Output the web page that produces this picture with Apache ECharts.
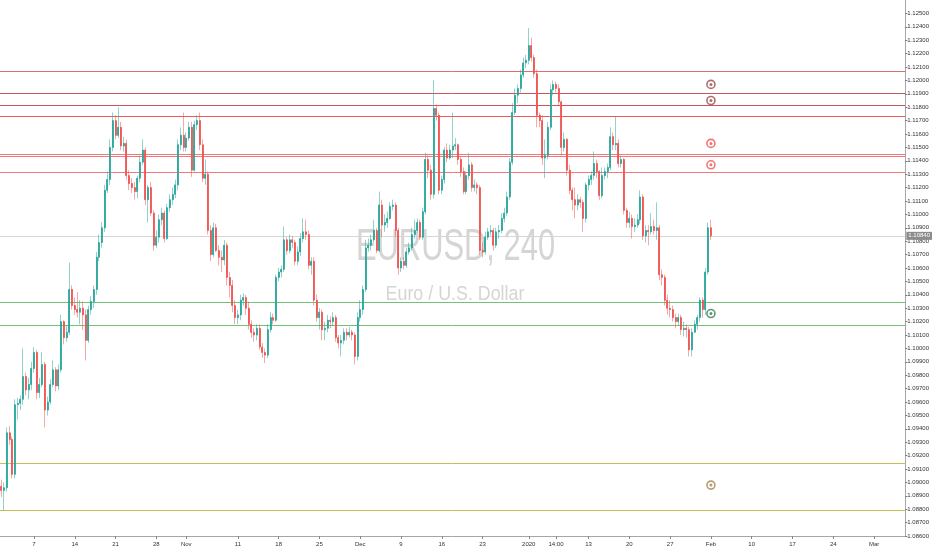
<!DOCTYPE html>
<html>
<head>
<meta charset="utf-8">
<script src="https://cdn.jsdelivr.net/npm/echarts@6/dist/echarts.min.js"></script>
<style>
html,body{margin:0;padding:0;background:#ffffff;}
#chart{width:932px;height:550px;}
</style>
</head>
<body>
<div id="chart"></div>
<script>
// EUR/USD candles, one per 8 hours: [open, close, low, high]
const octBars = [
[1.0897,1.0894,1.0889,1.0902],[1.0894,1.0896,1.0879,1.0900],[1.0896,1.0937,1.0893,1.0941],[1.0937,1.0932,1.0928,1.0942],
[1.0932,1.0906,1.0903,1.0934],[1.0906,1.0958,1.0903,1.0962],[1.0958,1.0959,1.0947,1.0963],[1.0959,1.0962,1.0954,1.0965],
[1.0962,1.0979,1.0958,1.1000],[1.0979,1.0969,1.0965,1.0982],[1.0969,1.0973,1.0962,1.0978],[1.0973,1.0985,1.0969,1.0990],
[1.0985,1.0997,1.0982,1.1001],[1.0997,1.0967,1.0962,1.0999],[1.0967,1.0973,1.0963,1.0978],[1.0973,1.0988,1.0971,1.0997],
[1.0988,1.0954,1.0941,1.0990],[1.0954,1.0960,1.0950,1.0964],[1.0960,1.0973,1.0958,1.0977],[1.0973,1.0984,1.0971,1.0991],
[1.0984,1.0972,1.0968,1.0986],[1.0972,1.0984,1.0969,1.0988],[1.0984,1.1020,1.0982,1.1025],[1.1020,1.1008,1.1003,1.1021],
[1.1008,1.1012,1.1005,1.1017],[1.1012,1.1044,1.1010,1.1064],[1.1044,1.1032,1.1029,1.1047],[1.1032,1.1029,1.1025,1.1038],
[1.1029,1.1027,1.1023,1.1042],[1.1027,1.1030,1.1018,1.1036],[1.1030,1.1025,1.1014,1.1035],[1.1025,1.1006,1.0991,1.1029],
[1.1006,1.1029,1.1004,1.1032],[1.1029,1.1035,1.1025,1.1039],[1.1035,1.1044,1.1030,1.1047],[1.1044,1.1068,1.1040,1.1072],
[1.1068,1.1079,1.1065,1.1085],[1.1079,1.1090,1.1075,1.1094],[1.1090,1.1118,1.1087,1.1122],[1.1118,1.1126,1.1116,1.1132],
[1.1126,1.1150,1.1122,1.1156],[1.1150,1.1170,1.1147,1.1176],[1.1170,1.1159,1.1156,1.1174],[1.1159,1.1165,1.1157,1.1180],
[1.1165,1.1151,1.1148,1.1169],[1.1151,1.1153,1.1147,1.1158],[1.1153,1.1129,1.1126,1.1156],[1.1129,1.1123,1.1118,1.1133],
[1.1123,1.1120,1.1116,1.1127],[1.1120,1.1117,1.1111,1.1124],[1.1117,1.1127,1.1112,1.1129],[1.1127,1.1139,1.1124,1.1144],
[1.1139,1.1148,1.1137,1.1156],[1.1148,1.1111,1.1107,1.1150],[1.1111,1.1120,1.1094,1.1122],[1.1120,1.1101,1.1099,1.1124],
[1.1101,1.1077,1.1073,1.1103],[1.1077,1.1083,1.1075,1.1088],[1.1083,1.1096,1.1079,1.1100],[1.1096,1.1101,1.1092,1.1105],
[1.1101,1.1082,1.1079,1.1103],[1.1082,1.1105,1.1081,1.1108],[1.1105,1.1111,1.1102,1.1115],[1.1111,1.1115,1.1107,1.1120],
[1.1115,1.1122,1.1112,1.1126],[1.1122,1.1152,1.1118,1.1156],[1.1152,1.1159,1.1148,1.1165],[1.1159,1.1150,1.1147,1.1176],
[1.1150,1.1157,1.1147,1.1161]
];
const novBars = [
[1.1157,1.1165,1.1155,1.1169],[1.1165,1.1133,1.1128,1.1169],[1.1133,1.1167,1.1132,1.1170],[1.1167,1.1170,1.1163,1.1174],
[1.1170,1.1152,1.1148,1.1176],[1.1152,1.1127,1.1124,1.1156],[1.1127,1.1130,1.1122,1.1141],[1.1130,1.1088,1.1085,1.1132],
[1.1088,1.1070,1.1065,1.1092],[1.1070,1.1090,1.1068,1.1094],[1.1090,1.1073,1.1072,1.1093],[1.1073,1.1068,1.1062,1.1077],
[1.1068,1.1066,1.1057,1.1073],[1.1066,1.1077,1.1062,1.1081],[1.1077,1.1053,1.1047,1.1079],[1.1053,1.1047,1.1038,1.1057],
[1.1047,1.1032,1.1027,1.1051],[1.1032,1.1023,1.1018,1.1036],[1.1023,1.1025,1.1018,1.1029],[1.1025,1.1036,1.1021,1.1040],
[1.1036,1.1038,1.1032,1.1041],[1.1038,1.1030,1.1025,1.1040],[1.1030,1.1018,1.1014,1.1035],[1.1018,1.1012,1.1008,1.1021],
[1.1012,1.1010,1.1005,1.1015],[1.1010,1.1015,1.1006,1.1018],[1.1015,1.1001,1.0999,1.1018],[1.1001,1.0997,1.0993,1.1004],
[1.0997,1.0995,1.0989,1.1000],[1.0995,1.1014,1.0993,1.1018],[1.1014,1.1023,1.1012,1.1027],[1.1023,1.1021,1.1018,1.1026],
[1.1021,1.1053,1.1020,1.1055],[1.1053,1.1057,1.1050,1.1060],[1.1057,1.1059,1.1053,1.1062],[1.1059,1.1081,1.1057,1.1091],
[1.1081,1.1073,1.1070,1.1083],[1.1073,1.1081,1.1071,1.1085],[1.1081,1.1079,1.1075,1.1084],[1.1079,1.1065,1.1062,1.1081],
[1.1065,1.1072,1.1062,1.1076],[1.1072,1.1082,1.1069,1.1086],[1.1082,1.1087,1.1079,1.1097],[1.1087,1.1085,1.1081,1.1096],
[1.1085,1.1062,1.1059,1.1088],[1.1062,1.1065,1.1055,1.1068],[1.1065,1.1036,1.1032,1.1068],[1.1036,1.1023,1.1020,1.1040],
[1.1023,1.1027,1.1014,1.1030],[1.1027,1.1014,1.1006,1.1029],[1.1014,1.1015,1.1006,1.1020],[1.1015,1.1021,1.1012,1.1025],
[1.1021,1.1020,1.1015,1.1024],[1.1020,1.1023,1.1017,1.1027],[1.1023,1.1008,1.1005,1.1025],[1.1008,1.1004,1.1000,1.1010],
[1.1004,1.1006,1.0994,1.1010],[1.1006,1.1012,1.1003,1.1015],[1.1012,1.1010,1.1006,1.1015],[1.1010,1.1012,1.1008,1.1016],
[1.1012,1.1010,1.1006,1.1014],[1.1010,1.0994,1.0988,1.1012],[1.0994,1.1023,1.0991,1.1027]
];
const decBars = [
[1.1023,1.1029,1.1020,1.1036],[1.1029,1.1044,1.1025,1.1047],[1.1044,1.1075,1.1042,1.1081],[1.1075,1.1077,1.1072,1.1082],
[1.1077,1.1081,1.1073,1.1085],[1.1081,1.1088,1.1079,1.1096],[1.1088,1.1073,1.1071,1.1090],[1.1073,1.1107,1.1072,1.1117],
[1.1107,1.1092,1.1083,1.1111],[1.1092,1.1094,1.1087,1.1100],[1.1094,1.1097,1.1090,1.1102],[1.1097,1.1106,1.1096,1.1109],
[1.1106,1.1107,1.1103,1.1111],[1.1107,1.1088,1.1083,1.1109],[1.1088,1.1060,1.1055,1.1090],[1.1060,1.1065,1.1057,1.1068],
[1.1065,1.1062,1.1059,1.1068],[1.1062,1.1072,1.1060,1.1075],[1.1072,1.1075,1.1070,1.1079],[1.1075,1.1085,1.1073,1.1090],
[1.1085,1.1088,1.1082,1.1096],[1.1088,1.1094,1.1086,1.1097],[1.1094,1.1083,1.1081,1.1096],[1.1083,1.1102,1.1081,1.1105],
[1.1102,1.1141,1.1100,1.1146],[1.1141,1.1133,1.1127,1.1144],[1.1133,1.1115,1.1111,1.1137],[1.1115,1.1179,1.1112,1.1200],
[1.1179,1.1174,1.1170,1.1182],[1.1174,1.1118,1.1115,1.1176],[1.1118,1.1126,1.1115,1.1129],[1.1126,1.1148,1.1123,1.1150],
[1.1148,1.1142,1.1139,1.1153],[1.1142,1.1148,1.1141,1.1152],[1.1148,1.1151,1.1142,1.1176],[1.1151,1.1152,1.1148,1.1157],
[1.1152,1.1141,1.1137,1.1153],[1.1141,1.1132,1.1128,1.1143],[1.1132,1.1117,1.1115,1.1135],[1.1117,1.1129,1.1115,1.1132],
[1.1129,1.1137,1.1126,1.1146],[1.1137,1.1120,1.1117,1.1139],[1.1120,1.1122,1.1117,1.1126],[1.1122,1.1120,1.1115,1.1124],
[1.1120,1.1073,1.1070,1.1122],[1.1073,1.1072,1.1068,1.1079],[1.1072,1.1083,1.1070,1.1087],[1.1083,1.1087,1.1081,1.1090],
[1.1087,1.1088,1.1084,1.1092],[1.1088,1.1077,1.1073,1.1090],[1.1077,1.1087,1.1075,1.1090],[1.1087,1.1088,1.1082,1.1092],
[1.1088,1.1097,1.1086,1.1101],[1.1097,1.1101,1.1094,1.1105],[1.1101,1.1113,1.1099,1.1117],[1.1113,1.1139,1.1111,1.1142],
[1.1139,1.1176,1.1137,1.1183],[1.1176,1.1189,1.1174,1.1194],[1.1189,1.1194,1.1183,1.1197],[1.1194,1.1204,1.1191,1.1208],
[1.1204,1.1213,1.1202,1.1217],[1.1213,1.1215,1.1209,1.1219],[1.1215,1.1226,1.1212,1.1239]
];
const janBars = [
[1.1226,1.1217,1.1214,1.1232],[1.1217,1.1205,1.1202,1.1219],[1.1205,1.1174,1.1165,1.1208],[1.1174,1.1170,1.1165,1.1176],
[1.1170,1.1142,1.1137,1.1174],[1.1142,1.1144,1.1127,1.1156],[1.1144,1.1165,1.1141,1.1169],[1.1165,1.1193,1.1163,1.1197],
[1.1193,1.1197,1.1189,1.1200],[1.1197,1.1194,1.1191,1.1199],[1.1194,1.1184,1.1181,1.1197],[1.1184,1.1150,1.1144,1.1185],
[1.1150,1.1156,1.1147,1.1161],[1.1156,1.1133,1.1129,1.1157],[1.1133,1.1118,1.1115,1.1137],[1.1118,1.1111,1.1103,1.1120],
[1.1111,1.1107,1.1097,1.1120],[1.1107,1.1111,1.1103,1.1115],[1.1111,1.1109,1.1105,1.1113],[1.1109,1.1097,1.1087,1.1111],
[1.1097,1.1122,1.1094,1.1124],[1.1122,1.1126,1.1118,1.1129],[1.1126,1.1129,1.1122,1.1132],[1.1129,1.1138,1.1126,1.1147],
[1.1138,1.1132,1.1127,1.1141],[1.1132,1.1114,1.1111,1.1133],[1.1114,1.1129,1.1112,1.1135],[1.1129,1.1132,1.1126,1.1135],
[1.1132,1.1135,1.1127,1.1138],[1.1135,1.1158,1.1133,1.1165],[1.1158,1.1152,1.1148,1.1161],[1.1152,1.1153,1.1148,1.1173],
[1.1153,1.1138,1.1135,1.1156],[1.1138,1.1141,1.1135,1.1144],[1.1141,1.1103,1.1100,1.1142],[1.1103,1.1094,1.1090,1.1105],
[1.1094,1.1097,1.1090,1.1102],[1.1097,1.1091,1.1082,1.1100],[1.1091,1.1092,1.1087,1.1097],[1.1092,1.1096,1.1090,1.1100],
[1.1096,1.1113,1.1093,1.1118],[1.1113,1.1084,1.1081,1.1115],[1.1084,1.1088,1.1079,1.1092],[1.1088,1.1087,1.1077,1.1092],
[1.1087,1.1091,1.1085,1.1101],[1.1091,1.1088,1.1085,1.1096],[1.1088,1.1090,1.1081,1.1109],[1.1090,1.1055,1.1051,1.1092],
[1.1055,1.1053,1.1047,1.1059],[1.1053,1.1036,1.1032,1.1055],[1.1036,1.1030,1.1025,1.1040],[1.1030,1.1029,1.1023,1.1036],
[1.1029,1.1023,1.1020,1.1032],[1.1023,1.1020,1.1015,1.1026],[1.1020,1.1023,1.1017,1.1026],[1.1023,1.1014,1.1010,1.1025],
[1.1014,1.1015,1.1009,1.1020],[1.1015,1.1014,1.1008,1.1018],[1.1014,1.0999,1.0994,1.1016],[1.0999,1.1012,1.0994,1.1015],
[1.1012,1.1018,1.1012,1.1021],[1.1018,1.1023,1.1014,1.1025],[1.1023,1.1036,1.1020,1.1038],[1.1036,1.1029,1.1023,1.1038],
[1.1029,1.1057,1.1025,1.1060],[1.1057,1.1090,1.1055,1.1094]
];
const febBars = [
[1.1090,1.1084,1.1081,1.1096]
];

// time axis: number of 8-hour slots shown (data + empty future space)
const slotCount = 333;
const tickSlots  = [12, 27, 42, 57, 68, 87, 102, 117, 132, 147, 162, 177, 194, 204, 216, 231, 246, 261, 276, 291, 306, 321];
const tickLabels = ['7','14','21','28','Nov','11','18','25','Dec','9','16','23','2020','14:00','13','20','27','Feb','10','17','24','Mar'];

// horizontal levels
const levelPrices = [1.12065, 1.11904, 1.11817, 1.11731, 1.11447, 1.11433, 1.11315, 1.10343, 1.10174, 1.09144, 1.08795];
const levelKinds  = ['faint', 'dusty', 'dusty', 'strong', 'light', 'light', 'light', 'green', 'green', 'olive', 'olive'];

// alert markers on the last bar
const alertPrices = [1.1197, 1.1185, 1.1153, 1.1137, 1.1026, 1.0898];
const alertKinds  = ['dark', 'dark', 'red', 'red', 'green', 'olive'];

const lastPrice = 1.1084;
const symbolTitle = 'EURUSD, 240';
const symbolName = 'Euro / U.S. Dollar';

// ---------- styling ----------
const UP = '#26a69a', DOWN = '#ef5350';
const levelColor = {faint:'#da7070', dusty:'#c65a5a', strong:'#ee5a5a', light:'#f27a7a', green:'#72c276', olive:'#c7bd55'};
const alertColor = {dark:'#9a4a4a', red:'#ef5350', green:'#2e7d4f', olive:'#a08448'};

const bars = octBars.concat(novBars, decBars, janBars, febBars);
const lastIndex = bars.length - 1;
const categories = Array.from({length: slotCount}, (_, i) => String(i));
const tickMap = new Map(tickSlots.map((s, k) => [s, tickLabels[k]]));
const bodyData = bars.map(b => [b[0], b[1], Math.min(b[0], b[1]), Math.max(b[0], b[1])]);

const levelLines = levelPrices.map((p, k) => ({
  yAxis: p,
  lineStyle: {color: levelColor[levelKinds[k]], width: 1, type: 'solid', opacity: 1},
  label: {show: false}
}));
levelLines.push({
  yAxis: lastPrice,
  lineStyle: {color: '#d6d6d6', width: 1, type: 'solid', opacity: 1},
  label: {
    show: true, position: 'end', distance: 1,
    formatter: () => lastPrice.toFixed(5),
    backgroundColor: '#8c8c8c', color: '#ffffff',
    fontSize: 6, padding: [1, 2, 1, 2],
    fontFamily: "'Liberation Sans Narrow','Liberation Sans',sans-serif"
  }
});

const chart = echarts.init(document.getElementById('chart'), null, {renderer: 'canvas'});
chart.setOption({
  animation: false,
  backgroundColor: '#ffffff',
  grid: {left: 0, right: 21, top: 0, bottom: 14, containLabel: false},
  graphic: [
    {
      type: 'text', x: 455.5, y: 247.5, scaleX: 0.71, z: -10, silent: true,
      style: {text: symbolTitle, fontSize: 43.5, fontFamily: "'Liberation Sans',Arial,sans-serif",
        fill: '#d5d5d5', align: 'center', verticalAlign: 'middle'}
    },
    {
      type: 'text', x: 455, y: 294.5, scaleX: 0.87, z: -10, silent: true,
      style: {text: symbolName, fontSize: 20.5, fontFamily: "'Liberation Sans',Arial,sans-serif",
        fill: '#d5d5d5', align: 'center', verticalAlign: 'middle'}
    }
  ],
  xAxis: {
    type: 'category',
    data: categories,
    boundaryGap: true,
    axisLine: {show: true, lineStyle: {color: '#a3a6ae', width: 1}},
    axisTick: {show: true, alignWithLabel: true, length: 3, lineStyle: {color: '#888'},
      interval: (i) => tickMap.has(i)},
    axisLabel: {
      show: true, interval: (i) => tickMap.has(i),
      formatter: (v, i) => tickMap.get(i) || '',
      fontSize: 6, color: '#333', margin: 5,
      fontFamily: "'Liberation Sans Narrow','Liberation Sans',sans-serif"
    },
    splitLine: {show: false}
  },
  yAxis: {
    type: 'value',
    position: 'right',
    min: 1.086, max: 1.126, interval: 0.001,
    axisLine: {show: true, lineStyle: {color: '#a3a6ae', width: 1}},
    axisTick: {show: true, length: 2, lineStyle: {color: '#777'}},
    axisLabel: {
      show: true, fontSize: 6, color: '#333', margin: 2,
      showMaxLabel: false,
      formatter: (v) => v.toFixed(5),
      fontFamily: "'Liberation Sans Narrow','Liberation Sans',sans-serif"
    },
    splitLine: {show: false}
  },
  series: [
    {
      name: 'wicks', type: 'candlestick', data: bars, barWidth: 0.2, z: 2,
      itemStyle: {color: 'rgba(38,166,154,0.5)', color0: 'rgba(239,83,80,0.5)',
        borderColor: 'rgba(38,166,154,0.5)', borderColor0: 'rgba(239,83,80,0.5)', borderWidth: 1},
      silent: true
    },
    {
      name: 'EURUSD', type: 'candlestick', data: bodyData, barWidth: 1.5, z: 3,
      itemStyle: {color: UP, color0: DOWN, borderColor: UP, borderColor0: DOWN, borderWidth: 0.8},
      silent: true,
      markLine: {silent: true, symbol: ['none', 'none'], animation: false, z: 1, precision: 5,
        data: levelLines}
    },
    {
      name: 'alertRing', type: 'scatter', z: 5, silent: true,
      symbol: 'circle', symbolSize: 8,
      data: alertPrices.map((p, k) => ({value: [lastIndex, p],
        itemStyle: {color: '#ffffff', borderColor: alertColor[alertKinds[k]], borderWidth: 1.6}}))
    },
    {
      name: 'alertDot', type: 'scatter', z: 6, silent: true,
      symbol: 'circle', symbolSize: 3,
      data: alertPrices.map((p, k) => ({value: [lastIndex, p],
        itemStyle: {color: alertColor[alertKinds[k]]}}))
    }
  ]
});
</script>
</body>
</html>
